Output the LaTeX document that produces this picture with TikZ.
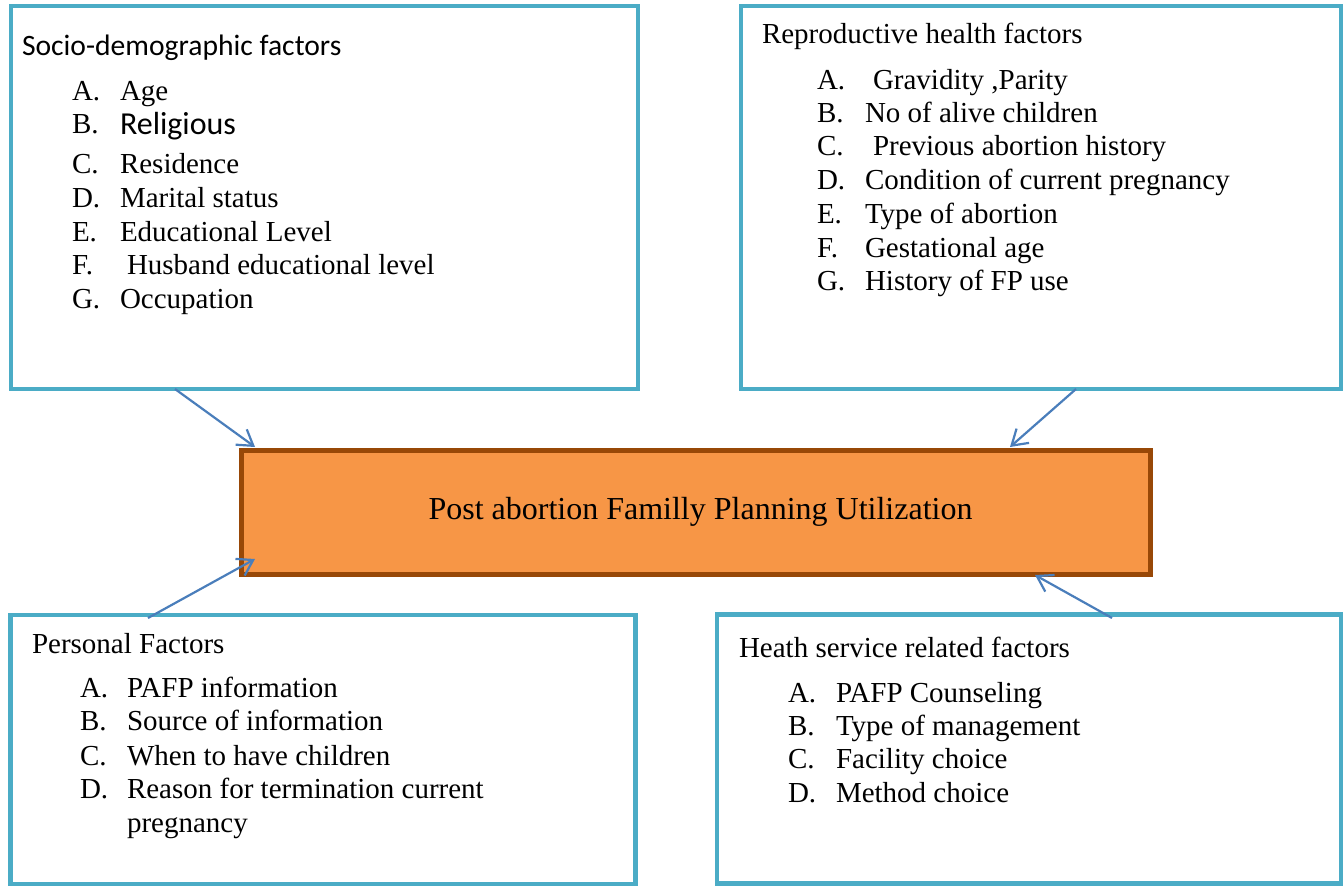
\documentclass[tikz,border=0pt]{standalone}
\usepackage{fontspec}
\setmainfont{Liberation Serif}
\newfontfamily\calfont{Carlito}
\usetikzlibrary{arrows.meta}
\definecolor{boxblue}{HTML}{4BACC6}
\definecolor{arrblue}{HTML}{4A7EBB}
\definecolor{orfill}{HTML}{F79646}
\definecolor{ordraw}{HTML}{984807}
\tikzset{
  bluebox/.style={draw=boxblue, line width=4.5pt, fill=white, anchor=north west, inner sep=0pt, outer sep=0pt},
  mainbox/.style={draw=ordraw, line width=5pt, fill=orfill, anchor=north west, inner sep=0pt, outer sep=0pt},
  txt/.style={anchor=base west, inner sep=0pt, outer sep=0pt, font=\fontsize{29}{34}\selectfont},
  ctxt/.style={anchor=base, inner sep=0pt, outer sep=0pt, font=\fontsize{32}{38}\selectfont},
  link/.style={draw=arrblue, line width=2.2pt, -{Straight Barb[length=15pt,width=19pt,line width=2.2pt]}}
}
\begin{document}
\begin{tikzpicture}[x=1pt,y=-1pt]
\useasboundingbox (0,0) rectangle (1344,886);
% boxes
\node[bluebox, minimum width=627pt, minimum height=383pt] (tl) at (11,6) {};
\node[bluebox, minimum width=600pt, minimum height=383pt] (tr) at (741,6) {};
\node[bluebox, minimum width=625pt, minimum height=269pt] (bl) at (10.5,615) {};
\node[bluebox, minimum width=624pt, minimum height=269pt] (br) at (717,614.5) {};
\node[mainbox, minimum width=909pt, minimum height=124pt] (ctr) at (241.5,450.5) {};
\node[ctxt] (ctrtext) at (700.5,519) {Post abortion Familly Planning Utilization};
% top-left text
\node[txt, font=\calfont\fontsize{29.6}{34}\selectfont] (tlh) at (22,55) {Socio-demographic factors};
\node[txt] (tla1) at (72,100) {A.};  \node[txt] (tla2) at (120,100) {Age};
\node[txt] (tlb1) at (72,133) {B.};  \node[txt, font=\calfont\fontsize{32}{36}\selectfont] (tlb2) at (120,134) {Religious};
\node[txt] (tlc1) at (72,173) {C.};  \node[txt] (tlc2) at (120,173) {Residence};
\node[txt] (tld1) at (72,207) {D.};  \node[txt] (tld2) at (120,207) {Marital status};
\node[txt] (tle1) at (72,241) {E.};  \node[txt] (tle2) at (120,241) {Educational Level};
\node[txt] (tlf1) at (72,274) {F.};  \node[txt] (tlf2) at (127,274) {Husband educational level};
\node[txt] (tlg1) at (72,308) {G.};  \node[txt] (tlg2) at (120,308) {Occupation};
% top-right text
\node[txt] (trh) at (762,43) {Reproductive health factors};
\node[txt] (tra1) at (817,89) {A.};  \node[txt] (tra2) at (873,89) {Gravidity ,Parity};
\node[txt] (trb1) at (817,122) {B.}; \node[txt] (trb2) at (865,122) {No of alive children};
\node[txt] (trc1) at (817,155) {C.}; \node[txt] (trc2) at (873,155) {Previous abortion history};
\node[txt] (trd1) at (817,189) {D.}; \node[txt] (trd2) at (865,189) {Condition of current pregnancy};
\node[txt] (tre1) at (817,223) {E.}; \node[txt] (tre2) at (865,223) {Type of abortion};
\node[txt] (trf1) at (817,257) {F.}; \node[txt] (trf2) at (865,257) {Gestational age};
\node[txt] (trg1) at (817,290) {G.}; \node[txt] (trg2) at (865,290) {History of FP use};
% bottom-left text
\node[txt] (blh) at (32,653) {Personal Factors};
\node[txt] (bla1) at (80,697) {A.}; \node[txt] (bla2) at (127,697) {PAFP information};
\node[txt] (blb1) at (80,730) {B.}; \node[txt] (blb2) at (127,730) {Source of information};
\node[txt] (blc1) at (80,765) {C.}; \node[txt] (blc2) at (127,765) {When to have children};
\node[txt] (bld1) at (80,798) {D.}; \node[txt] (bld2) at (127,798) {Reason for termination current};
\node[txt] (bld3) at (127,832) {pregnancy};
% bottom-right text
\node[txt] (brh) at (739,657) {Heath service related factors};
\node[txt] (bra1) at (788,702) {A.}; \node[txt] (bra2) at (836,702) {PAFP Counseling};
\node[txt] (brb1) at (788,735) {B.}; \node[txt] (brb2) at (836,735) {Type of management};
\node[txt] (brc1) at (788,768) {C.}; \node[txt] (brc2) at (836,768) {Facility choice};
\node[txt] (brd1) at (788,802) {D.}; \node[txt] (brd2) at (836,802) {Method choice};
% arrow end points
\coordinate (s1) at (175,389);
\coordinate (e1) at (255,447);
\coordinate (s2) at (1076,389);
\coordinate (e2) at (1010,447);
\coordinate (s3) at (148,618);
\coordinate (e3) at (255,559);
\coordinate (s4) at (1112,618);
\coordinate (e4) at (1035,575);
\draw[link] (s1) -- (e1);
\draw[link] (s2) -- (e2);
\draw[link] (s3) -- (e3);
\draw[link] (s4) -- (e4);
\end{tikzpicture}
\end{document}
